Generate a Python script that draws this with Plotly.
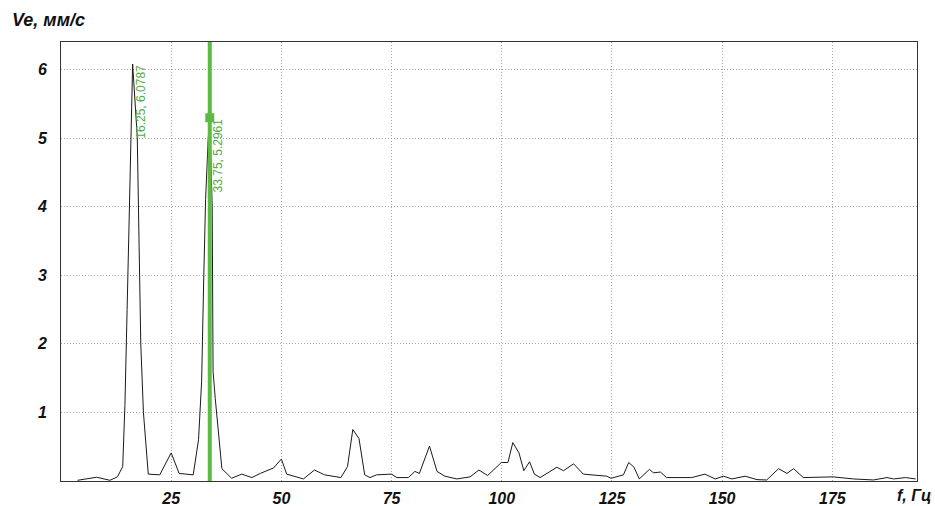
import plotly.graph_objects as go

# spectrum (frequency, Hz / velocity, mm/s)
freq = [3.75, 8.1, 11.1, 12.8, 14.0, 14.5, 15.0, 15.5, 15.8, 16.25, 17.3, 17.6, 17.8, 18.1, 18.7, 19.8,
        22.4, 25.0, 26.8, 30.0, 31.2, 31.9, 32.4, 32.8, 33.4, 33.75, 34.3, 34.5, 35.0, 36.5, 38.7,
        41.0, 43.3, 45.2, 48.2, 50.0, 51.2, 55.0, 57.5, 59.8, 63.5, 65.0, 66.2, 67.6, 68.9, 70.1,
        71.6, 75.0, 76.2, 78.8, 80.3, 81.3, 83.6, 85.3, 87.1, 89.8, 92.8, 94.8, 96.8, 99.9, 101.4,
        102.5, 103.9, 105.0, 106.3, 107.4, 108.7, 112.5, 114.0, 116.3, 118.5, 123.8, 124.8, 127.6,
        128.8, 130.0, 131.2, 133.5, 134.4, 136.0, 137.4, 143.1, 146.1, 148.4, 150.3, 152.2, 155.2,
        157.9, 160.1, 162.8, 164.7, 166.2, 168.4, 175.2, 179.8, 184.3, 187.4, 188.9, 191.6, 193.9]
ve = [0.01, 0.055, 0.01, 0.06, 0.21, 1.1, 2.5, 4.0, 5.0, 6.0787, 5.02, 4.0, 3.0, 2.0, 1.0, 0.1,
      0.09, 0.41, 0.11, 0.09, 0.6, 1.45, 3.0, 4.1, 5.0, 5.2961, 4.0, 1.6, 1.2, 0.18, 0.04,
      0.10, 0.05, 0.11, 0.19, 0.32, 0.10, 0.03, 0.16, 0.09, 0.05, 0.21, 0.75, 0.62, 0.09, 0.05,
      0.09, 0.10, 0.05, 0.05, 0.14, 0.11, 0.51, 0.14, 0.07, 0.03, 0.06, 0.16, 0.08, 0.27, 0.27,
      0.56, 0.41, 0.15, 0.28, 0.10, 0.05, 0.20, 0.15, 0.25, 0.10, 0.07, 0.04, 0.09,
      0.27, 0.20, 0.03, 0.17, 0.12, 0.13, 0.05, 0.05, 0.10, 0.03, 0.07, 0.03, 0.07,
      0.02, 0.015, 0.18, 0.11, 0.18, 0.05, 0.06, 0.03, 0.015, 0.05, 0.03, 0.05, 0.03]

peak_f, peak_v = 16.25, 6.0787
cursor_f, cursor_v = 33.75, 5.2961

xticks = [25, 50, 75, 100, 125, 150, 175]
yticks = [1, 2, 3, 4, 5, 6]

green = '#5cba45'
font = 'Arial, Liberation Sans, sans-serif'
tfont = dict(family=font, size=16, color='#111', weight='bold', style='italic')

fig = go.Figure()
fig.add_trace(go.Scatter(x=freq, y=ve, mode='lines', line=dict(color='#1a1a1a', width=1), showlegend=False))

# cursor line + marker
fig.add_vline(x=cursor_f, line_color=green, line_width=4, layer='above')
fig.add_trace(go.Scatter(x=[cursor_f], y=[cursor_v], mode='markers',
                         marker=dict(symbol='square', size=9, color=green), showlegend=False))
fig.add_trace(go.Scatter(x=[cursor_f], y=[cursor_v], mode='markers',
                         marker=dict(symbol='square', size=2, color='#333333'), showlegend=False))

for f, v in [(peak_f, peak_v), (cursor_f, cursor_v)]:
    fig.add_annotation(x=f, y=v, text=f'{f}, {v}', showarrow=False, textangle=-90,
                       xanchor='center', yanchor='middle', xshift=8, yshift=-38,
                       font=dict(family=font, size=12, color='#4fae3f'))

fig.add_annotation(xref='paper', yref='paper', x=1.019, y=-0.032, xanchor='right', yanchor='middle',
                   text='f, Гц', showarrow=False, font=tfont)
fig.add_annotation(xref='paper', yref='paper', x=-0.06, y=1.05, xanchor='left', yanchor='middle',
                   text='Ve, мм/с', showarrow=False,
                   font=dict(family=font, size=18, color='#111', weight='bold', style='italic'))

fig.update_layout(
    width=935, height=506,
    margin=dict(l=61, r=18, t=42, b=25),
    plot_bgcolor='white', paper_bgcolor='white',
    showlegend=False,
)
fig.update_xaxes(range=[0, 194.2], tickvals=xticks, ticktext=[str(t) for t in xticks],
                 showgrid=True, gridcolor='#a8a8a8', griddash='1px,2px', gridwidth=1,
                 showline=True, mirror=True, linecolor='#333', linewidth=1,
                 zeroline=False, ticks='', ticklabelstandoff=3, automargin=False,
                 tickfont=tfont)
fig.update_yaxes(range=[0, 6.4], tickvals=yticks, ticktext=[str(t) for t in yticks],
                 showgrid=True, gridcolor='#a8a8a8', griddash='1px,2px', gridwidth=1,
                 showline=True, mirror=True, linecolor='#333', linewidth=1,
                 zeroline=False, ticks='', ticklabelstandoff=10, automargin=False,
                 tickfont=tfont)

fig.write_html("out.html", config={'displayModeBar': False},
               post_script="document.body.style.margin='0';")
